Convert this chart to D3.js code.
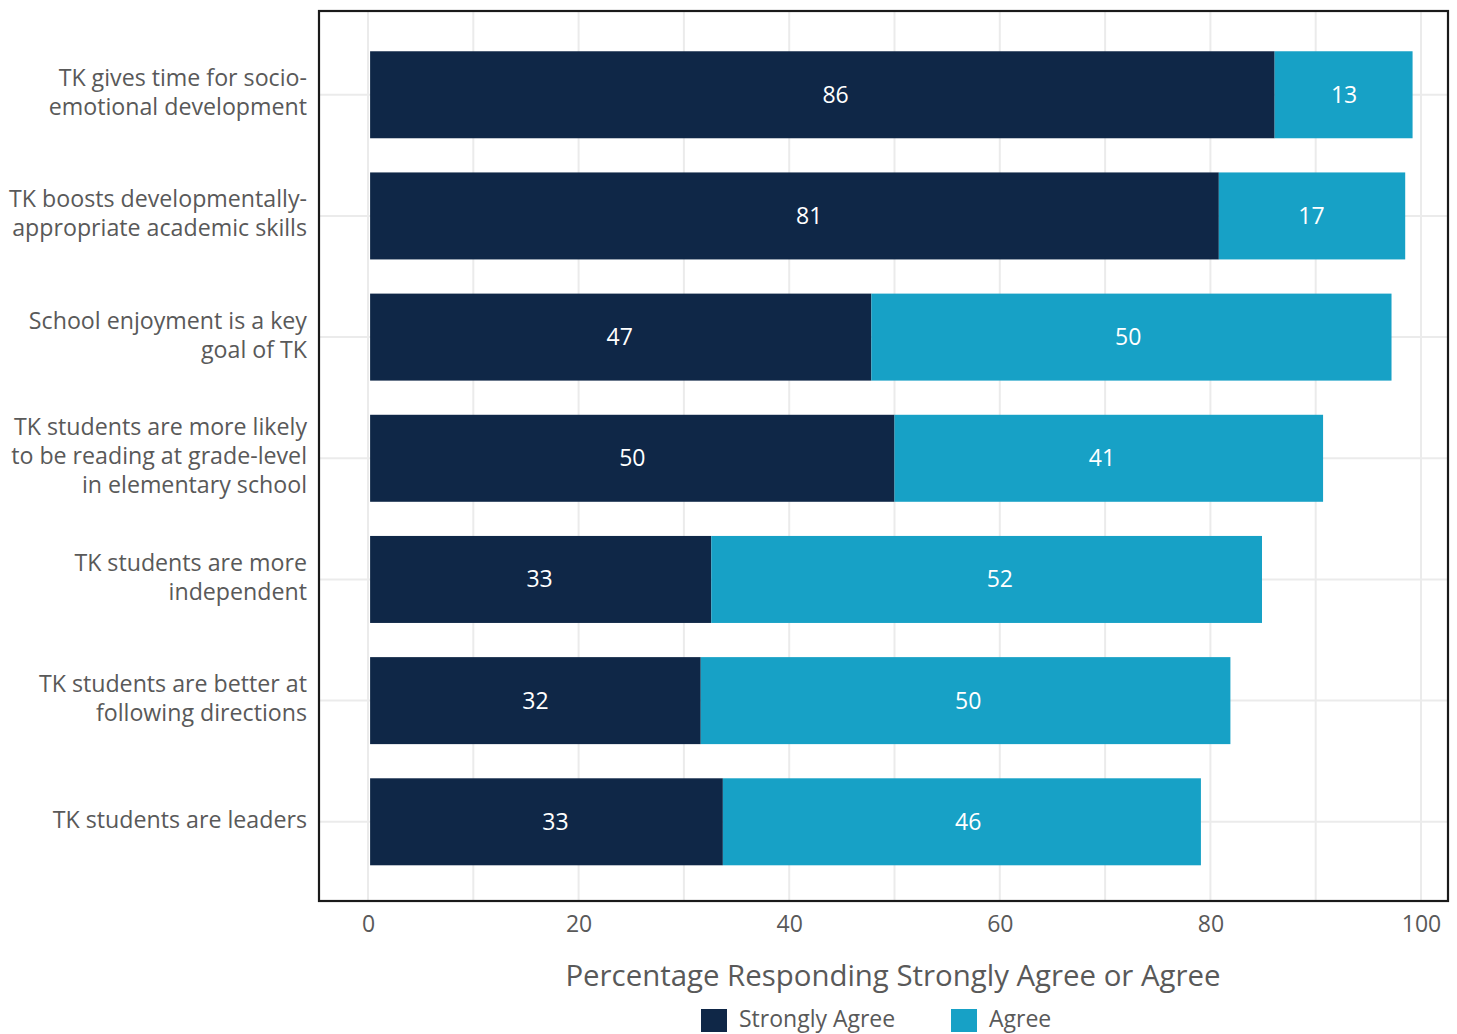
<!DOCTYPE html>
<html>
<head>
<meta charset="utf-8">
<script src="https://cdn.jsdelivr.net/npm/d3@7"></script>
<style>
  html, body { margin: 0; padding: 0; background: #ffffff; }
  svg { display: block; }
  text { font-family: "Open Sans", "Noto Sans", sans-serif; }
</style>
</head>
<body>
<svg id="chart" width="1457" height="1034"></svg>
<script>
// ---- data ----
const categories = [
  ["TK gives time for socio-", "emotional development"],
  ["TK boosts developmentally-", "appropriate academic skills"],
  ["School enjoyment is a key", "goal of TK"],
  ["TK students are more likely", "to be reading at grade-level", "in elementary school"],
  ["TK students are more", "independent"],
  ["TK students are better at", "following directions"],
  ["TK students are leaders"]
];
const seriesNames = ["Strongly Agree", "Agree"];
const stronglyAgree = [86.1, 80.8, 47.8, 50.0, 32.6, 31.6, 33.7];
const agree = [13.1, 17.7, 49.4, 40.7, 52.3, 50.3, 45.4];
const stronglyAgreeLabels = ["86", "81", "47", "50", "33", "32", "33"];
const agreeLabels = ["13", "17", "50", "41", "52", "50", "46"];
const stronglyAgreeLabelAt = [44.4, 41.9, 23.9, 25.1, 16.3, 15.9, 17.8];
const agreeLabelAt = [92.7, 89.6, 72.2, 69.7, 60.0, 57.0, 57.0];
const xTicks = [0, 20, 40, 60, 80, 100];
const xMinor = [10, 30, 50, 70, 90];
const xTitle = "Percentage Responding Strongly Agree or Agree";

const colors = ["#0f2747", "#17a1c6"];
const textColor = "#595959";
const fontFam = "'Open Sans', 'Noto Sans', sans-serif";

const svg = d3.select("#chart");
const panel = { left: 319, top: 11, right: 1448, bottom: 901 };

const x = d3.scaleLinear().domain([0, 100]).range([368, 1421]);
const ids = categories.map((c, i) => i);
const y = d3.scaleBand().domain(ids).range([panel.top, panel.bottom])
  .paddingInner(0.282).paddingOuter(0.3135).align(0.53);

// gridlines
const grid = svg.append("g");
grid.selectAll("line.vmin").data(xMinor).join("line")
  .attr("x1", d => x(d)).attr("x2", d => x(d))
  .attr("y1", panel.top).attr("y2", panel.bottom)
  .attr("stroke", "#ebebeb").attr("stroke-width", 2);
grid.selectAll("line.vmaj").data(xTicks).join("line")
  .attr("x1", d => x(d)).attr("x2", d => x(d))
  .attr("y1", panel.top).attr("y2", panel.bottom)
  .attr("stroke", "#ebebeb").attr("stroke-width", 2);
grid.selectAll("line.h").data(ids).join("line")
  .attr("x1", panel.left).attr("x2", panel.right)
  .attr("y1", d => y(d) + y.bandwidth() / 2).attr("y2", d => y(d) + y.bandwidth() / 2)
  .attr("stroke", "#ebebeb").attr("stroke-width", 2);

// bars
const bars = svg.append("g");
bars.selectAll("rect.sa").data(ids).join("rect")
  .attr("x", x(0.2)).attr("y", d => y(d))
  .attr("width", d => x(stronglyAgree[d]) - x(0.2))
  .attr("height", y.bandwidth())
  .attr("fill", colors[0]);
bars.selectAll("rect.ag").data(ids).join("rect")
  .attr("x", d => x(stronglyAgree[d])).attr("y", d => y(d))
  .attr("width", d => x(stronglyAgree[d] + agree[d]) - x(stronglyAgree[d]))
  .attr("height", y.bandwidth())
  .attr("fill", colors[1]);

// value labels
const labels = svg.append("g").attr("font-size", 23).attr("fill", "#ffffff").attr("text-anchor", "middle");
labels.selectAll("text.sa").data(ids).join("text")
  .attr("x", d => x(stronglyAgreeLabelAt[d]))
  .attr("y", d => y(d) + y.bandwidth() / 2 + 8)
  .text(d => stronglyAgreeLabels[d]);
labels.selectAll("text.ag").data(ids).join("text")
  .attr("x", d => x(agreeLabelAt[d]))
  .attr("y", d => y(d) + y.bandwidth() / 2 + 8)
  .text(d => agreeLabels[d]);

// panel border
svg.append("rect")
  .attr("x", panel.left).attr("y", panel.top)
  .attr("width", panel.right - panel.left).attr("height", panel.bottom - panel.top)
  .attr("fill", "none").attr("stroke", "#1a1a1a").attr("stroke-width", 2.2);

// y axis labels
const ylab = svg.append("g").attr("font-size", 23.2).attr("fill", textColor).attr("text-anchor", "end");
ids.forEach(i => {
  const lines = categories[i];
  const cy = y(i) + y.bandwidth() / 2;
  const lh = 29;
  const t = ylab.append("text").attr("x", 307);
  lines.forEach((ln, k) => {
    t.append("tspan").attr("x", 307)
      .attr("y", cy - (lines.length - 1) * lh / 2 + k * lh + 6)
      .text(ln);
  });
});

// x axis tick labels
const xaxis = svg.append("g").attr("transform", `translate(0,${panel.bottom})`)
  .call(d3.axisBottom(x).tickValues(xTicks).tickSize(0).tickPadding(15).tickFormat(d3.format("d")));
xaxis.select(".domain").remove();
xaxis.selectAll("text").attr("font-size", 23).attr("fill", textColor)
  .attr("font-family", fontFam);

// x title
svg.append("text").attr("x", 893).attr("y", 986)
  .attr("text-anchor", "middle").attr("font-size", 29.4).attr("fill", textColor)
  .text(xTitle);

// legend
const legendX = [701, 951];
const leg = svg.append("g");
seriesNames.forEach((s, i) => {
  leg.append("rect").attr("x", legendX[i]).attr("y", 1009)
    .attr("width", 26).attr("height", 23).attr("fill", colors[i]);
  leg.append("text").attr("x", legendX[i] + 38).attr("y", 1027)
    .attr("font-size", 23).attr("fill", textColor).text(s);
});
</script>
</body>
</html>
